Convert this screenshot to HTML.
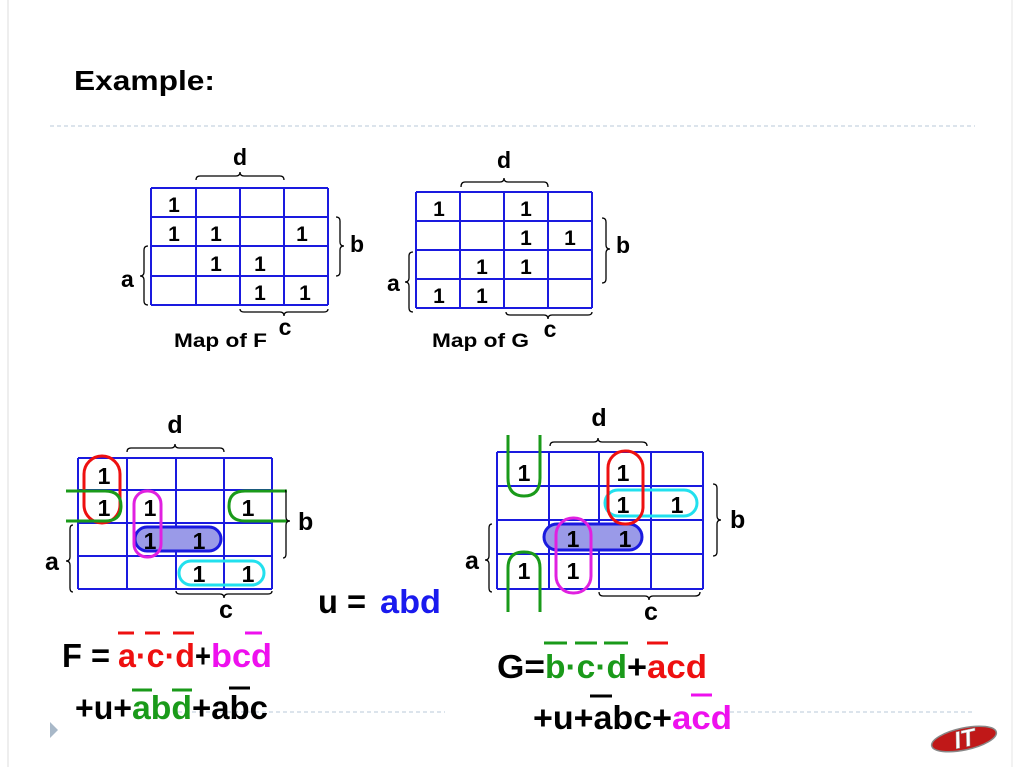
<!DOCTYPE html>
<html><head><meta charset="utf-8"><style>
html,body{margin:0;padding:0;background:#fff;}
svg{display:block;}
text{font-family:"Liberation Sans",Arial,sans-serif;font-weight:bold;}
</style></head><body>
<svg width="1024" height="767" viewBox="0 0 1024 767" xmlns="http://www.w3.org/2000/svg">
<rect x="0" y="0" width="1024" height="767" fill="#fff"/>
<line x1="8" y1="0" x2="8" y2="767" stroke="#eee" stroke-width="2"/>
<line x1="1012" y1="0" x2="1012" y2="767" stroke="#f2f2f2" stroke-width="2"/>
<text x="74" y="90" font-size="28" fill="#000" textLength="141" lengthAdjust="spacingAndGlyphs">Example:</text>
<line x1="50" y1="126" x2="975" y2="126" stroke="#b8c8d8" stroke-width="1" stroke-dasharray="4,3"/>
<line x1="178" y1="712" x2="445" y2="712" stroke="#b8c8d8" stroke-width="1" stroke-dasharray="4,3"/>
<line x1="730" y1="712" x2="975" y2="712" stroke="#b8c8d8" stroke-width="1" stroke-dasharray="4,3"/>
<polygon points="50,722 58,730 50,738" fill="#a8b8c8"/>

<!-- Top F map -->
<g stroke="#1a1adf" stroke-width="2" fill="none">
<path d="M151 188H328M151 217H328M151 246H328M151 276H328M151 305H328M151 188V305M196 188V305M240 188V305M284 188V305M328 188V305"/>
</g>
<g font-size="21" fill="#000" text-anchor="middle">
<text x="174" y="212">1</text>
<text x="174" y="241">1</text><text x="216" y="241">1</text><text x="302" y="241">1</text>
<text x="216" y="271">1</text><text x="260" y="271">1</text>
<text x="260" y="300">1</text><text x="305" y="300">1</text>
</g>
<g stroke="#000" stroke-width="1.3" fill="none">
<path d="M196 180 Q196 176 200 176 L236 176 Q240 176 240 172 Q240 176 244 176 L280 176 Q284 176 284 180"/>
<path d="M240 309 Q240 312 244 312 L280 312 Q284 312 284 316 Q284 312 288 312 L324 312 Q328 312 328 309"/>
<path d="M336 217 Q340 217 340 221 L340 242 Q340 246 344 246 Q340 246 340 250 L340 272 Q340 276 336 276"/>
<path d="M148 246 Q144 246 144 250 L144 272 Q144 276 140 276 Q144 276 144 280 L144 301 Q144 305 148 305"/>
</g>
<text x="240" y="165" font-size="23" text-anchor="middle">d</text>
<text x="285" y="335" font-size="23" text-anchor="middle">c</text>
<text x="350" y="252" font-size="23">b</text>
<text x="121" y="287" font-size="23">a</text>
<text x="174" y="347" font-size="19" textLength="93" lengthAdjust="spacingAndGlyphs">Map of F</text>

<!-- Top G map -->
<g stroke="#1a1adf" stroke-width="2" fill="none">
<path d="M416 192H592M416 221H592M416 250H592M416 279H592M416 308H592M416 192V308M460 192V308M504 192V308M548 192V308M592 192V308"/>
</g>
<g font-size="21" fill="#000" text-anchor="middle">
<text x="439" y="216">1</text><text x="526" y="216">1</text>
<text x="526" y="245">1</text><text x="570" y="245">1</text>
<text x="482" y="274">1</text><text x="526" y="274">1</text>
<text x="439" y="303">1</text><text x="482" y="303">1</text>
</g>
<g stroke="#000" stroke-width="1.3" fill="none">
<path d="M461 187 Q461 182 465 182 L500 182 Q504 182 504 178 Q504 182 508 182 L544 182 Q548 182 548 187"/>
<path d="M506 312 Q506 315 510 315 L544 315 Q548 315 548 319 Q548 315 552 315 L588 315 Q592 315 592 312"/>
<path d="M602 218 Q606 218 606 222 L606 245 Q606 249 610 249 Q606 249 606 253 L606 279 Q606 283 602 283"/>
<path d="M413 252 Q409 252 409 256 L409 278 Q409 282 405 282 Q409 282 409 286 L409 308 Q409 312 413 312"/>
</g>
<text x="504" y="168" font-size="23" text-anchor="middle">d</text>
<text x="550" y="337" font-size="23" text-anchor="middle">c</text>
<text x="616" y="253" font-size="23">b</text>
<text x="387" y="291" font-size="23">a</text>
<text x="432" y="347" font-size="19" textLength="97" lengthAdjust="spacingAndGlyphs">Map of G</text>

<!-- Bottom F map -->
<g stroke="#1a1adf" stroke-width="2" fill="none">
<path d="M78 458H272M78 490H272M78 523H272M78 556H272M78 589H272M78 458V589M127 458V589M176 458V589M224 458V589M272 458V589"/>
</g>
<rect x="135" y="527" width="86" height="24" rx="12" fill="#9a9ae8" stroke="#1a1adf" stroke-width="3"/>
<rect x="179" y="561" width="85" height="24" rx="12" fill="none" stroke="#22e0ee" stroke-width="3"/>
<rect x="134" y="491" width="27" height="66" rx="13" fill="none" stroke="#e020e0" stroke-width="3"/>
<rect x="84" y="456" width="36" height="67" rx="18" fill="none" stroke="#ee1010" stroke-width="3"/>
<g stroke="#1a9a1a" stroke-width="3" fill="none">
<path d="M66 491 H105 Q121 491 121 506 Q121 521 105 521 H66"/>
<path d="M287 491 H245 Q229 491 229 506 Q229 521 245 521 H287"/>
</g>
<g font-size="23" fill="#000" text-anchor="middle">
<text x="104" y="484">1</text>
<text x="104" y="516">1</text><text x="150" y="516">1</text><text x="248" y="516">1</text>
<text x="150" y="549">1</text><text x="199" y="549">1</text>
<text x="199" y="582">1</text><text x="248" y="582">1</text>
</g>
<g stroke="#000" stroke-width="1.3" fill="none">
<path d="M127 452 Q127 448 131 448 L171 448 Q175 448 175 444 Q175 448 179 448 L220 448 Q224 448 224 452"/>
<path d="M176 591 Q176 594 180 594 L220 594 Q224 594 224 598 Q224 594 228 594 L268 594 Q272 594 272 591"/>
<path d="M285 490 Q286 490 286 494 L286 517 Q286 521 290 521 Q286 521 286 525 L286 554 Q286 558 283 558"/>
<path d="M73 525 Q70 525 70 529 L70 557 Q70 561 66 561 Q70 561 70 565 L70 588 Q70 592 73 592"/>
</g>
<text x="175" y="433" font-size="25" text-anchor="middle">d</text>
<text x="226" y="618" font-size="25" text-anchor="middle">c</text>
<text x="298" y="530" font-size="25">b</text>
<text x="45" y="570" font-size="25">a</text>

<!-- Bottom G map -->
<g stroke="#1a1adf" stroke-width="2" fill="none">
<path d="M497 452H703M497 486H703M497 520H703M497 554H703M497 589H703M497 452V589M549 452V589M599 452V589M651 452V589M703 452V589"/>
</g>
<rect x="544" y="524" width="98" height="26" rx="13" fill="#9a9ae8" stroke="#1a1adf" stroke-width="3"/>
<rect x="556" y="518" width="35" height="75" rx="17" fill="none" stroke="#e020e0" stroke-width="3"/>
<rect x="605" y="490" width="92" height="26" rx="13" fill="none" stroke="#22e0ee" stroke-width="3"/>
<rect x="608" y="451" width="35" height="73" rx="17" fill="none" stroke="#ee1010" stroke-width="3"/>
<g stroke="#1a9a1a" stroke-width="3" fill="none">
<path d="M508 435 V478 Q508 496 524 496 Q540 496 540 478 V435"/>
<path d="M508 612 V568 Q508 552 524 552 Q540 552 540 568 V612"/>
</g>
<g font-size="23" fill="#000" text-anchor="middle">
<text x="524" y="481">1</text><text x="623" y="481">1</text>
<text x="623" y="513">1</text><text x="677" y="513">1</text>
<text x="573" y="547">1</text><text x="625" y="547">1</text>
<text x="524" y="579">1</text><text x="573" y="579">1</text>
</g>
<g stroke="#000" stroke-width="1.3" fill="none">
<path d="M550 446 Q550 442 554 442 L594 442 Q598 442 598 438 Q598 442 602 442 L642 442 Q647 442 647 446"/>
<path d="M599 592 Q599 596 603 596 L645 596 Q649 596 649 600 Q649 596 653 596 L695 596 Q700 596 700 592"/>
<path d="M713 484 Q717 484 717 488 L717 516 Q717 520 721 520 Q717 520 717 524 L717 552 Q717 556 713 556"/>
<path d="M492 524 Q489 524 489 528 L489 556 Q489 560 485 560 Q489 560 489 564 L489 588 Q489 592 492 592"/>
</g>
<text x="599" y="426" font-size="25" text-anchor="middle">d</text>
<text x="651" y="620" font-size="25" text-anchor="middle">c</text>
<text x="730" y="528" font-size="25">b</text>
<text x="465" y="569" font-size="25">a</text>

<!-- u = abd -->
<text x="318" y="613" font-size="33" fill="#000" textLength="48" lengthAdjust="spacingAndGlyphs">u =</text>
<text x="380" y="613" font-size="33" fill="#1a1aee" textLength="61" lengthAdjust="spacingAndGlyphs">abd</text>

<!-- equations -->
<g font-size="33">
<text x="62" y="667" fill="#000" textLength="48" lengthAdjust="spacingAndGlyphs">F =</text>
<text x="118" y="667" fill="#ee1010" textLength="77" lengthAdjust="spacingAndGlyphs">a·c·d</text>
<text x="195" y="667" fill="#000" textLength="16" lengthAdjust="spacingAndGlyphs">+</text>
<text x="211" y="667" fill="#ee10ee" textLength="61" lengthAdjust="spacingAndGlyphs">bcd</text>
<text x="75" y="719" fill="#000" textLength="57" lengthAdjust="spacingAndGlyphs">+u+</text>
<text x="132" y="719" fill="#1a9a1a" textLength="60" lengthAdjust="spacingAndGlyphs">abd</text>
<text x="192" y="719" fill="#000" textLength="76" lengthAdjust="spacingAndGlyphs">+abc</text>
<text x="497" y="678" fill="#000" textLength="48" lengthAdjust="spacingAndGlyphs">G=</text>
<text x="545" y="678" fill="#1a9a1a" textLength="82" lengthAdjust="spacingAndGlyphs">b·c·d</text>
<text x="627" y="678" fill="#000" textLength="20" lengthAdjust="spacingAndGlyphs">+</text>
<text x="647" y="678" fill="#ee1010" textLength="60" lengthAdjust="spacingAndGlyphs">acd</text>
<text x="533" y="729" fill="#000" textLength="139" lengthAdjust="spacingAndGlyphs">+u+abc+</text>
<text x="672" y="729" fill="#ee10ee" textLength="60" lengthAdjust="spacingAndGlyphs">acd</text>
</g>
<g stroke-width="3">
<path d="M118 633H134M145 633H160M173 633H194" stroke="#ee1010"/>
<path d="M245 633H262" stroke="#ee10ee"/>
<path d="M132 690H152M172 690H192" stroke="#1a9a1a"/>
<path d="M229 688H250" stroke="#000"/>
<path d="M544 643H567M575 643H597M604 643H628" stroke="#1a9a1a"/>
<path d="M647 643H668" stroke="#ee1010"/>
<path d="M590 696H612" stroke="#000"/>
<path d="M691 695H712" stroke="#ee10ee"/>
</g>

<!-- logo -->
<g transform="translate(964,739) rotate(-12)">
<ellipse cx="0" cy="0" rx="33" ry="11" fill="#c01818" stroke="#888" stroke-width="1.5"/>
<text x="-10" y="8" font-size="24" font-style="italic" fill="#fff" stroke="#999" stroke-width="0.5">IT</text>
</g>
</svg>
</body></html>
